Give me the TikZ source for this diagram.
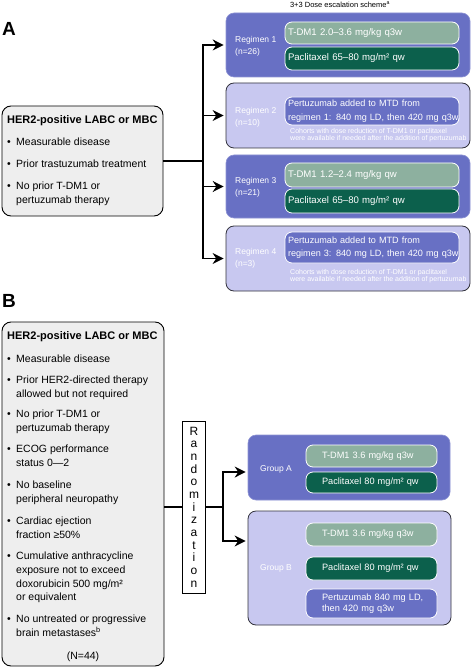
\documentclass[tikz,border=0pt]{standalone}
\usepackage{fontspec}
\setmainfont{Liberation Sans}
\usetikzlibrary{arrows.meta}
\definecolor{blueM}{RGB}{104,112,196}
\definecolor{lav}{RGB}{200,200,240}
\definecolor{sage}{RGB}{141,176,159}
\definecolor{dgreen}{RGB}{12,96,76}
\definecolor{grayf}{RGB}{238,238,238}
\definecolor{edge}{RGB}{50,50,60}
\begin{document}
\begin{tikzpicture}[x=1pt,y=-1pt,
  outerdark/.style={draw=blueM!75!white, fill=blueM, rounded corners=8pt, line width=0.6pt, inner sep=0pt},
  outerlight/.style={draw=edge, fill=lav, rounded corners=8pt, line width=0.8pt, inner sep=0pt},
  inbox/.style={draw=white, line width=0.8pt, rounded corners=7pt, text=white, inner xsep=3pt, inner ysep=0pt, align=left, text width=168pt, minimum width=174pt, font=\fontsize{9.6}{13.5}\selectfont},
  inboxB/.style={inbox, inner xsep=16pt, text width=99pt, minimum width=131pt, font=\fontsize{9.2}{11.5}\selectfont},
  crit/.style={draw=black, line width=0.9pt, fill=grayf, rounded corners=9pt, inner sep=0pt},
  lab/.style={text=white, font=\fontsize{8.5}{12}\selectfont, align=left, anchor=west, inner sep=0pt},
  small/.style={text=white, font=\fontsize{7}{7}\selectfont, align=left, anchor=west, inner sep=0pt},
  itm/.style={anchor=mid west, inner sep=0pt, font=\fontsize{10.5}{12}\selectfont},
  ttl/.style={anchor=mid west, inner sep=0pt, font=\fontsize{11}{12}\selectfont\bfseries},
  panel/.style={anchor=west, inner sep=0pt, font=\fontsize{19}{20}\selectfont\bfseries},
  ln/.style={line width=1.1pt},
  arr/.style={line width=1.1pt, -{Stealth[length=11pt,width=11pt]}, shorten >=2pt}
]
\useasboundingbox (0,0) rectangle (473,668);

% ---------------- Panel A ----------------
\node[panel] (labA) at (2,29) {A};
\node[inner sep=0pt, font=\fontsize{7.5}{9}\selectfont] (titleA) at (340,5) {3+3 Dose escalation scheme\textsuperscript{a}};

\node[crit, minimum width=161pt, minimum height=110pt] (boxA) at (82.5,161) {};
\node[ttl] (tA) at (7,121) {HER2-positive LABC or MBC};
\foreach \y [count=\i] in {143,165,187}
  \node[itm] (ab\i) at (7,\y) {•};
\foreach \y/\t [count=\i] in {143/{Measurable disease}, 165/{Prior trastuzumab treatment}, 187/{No prior T-DM1 or}, 201/{pertuzumab therapy}}
  \node[itm] (a\i) at (16,\y) {\t};

% Regimen 1
\node[outerdark, minimum width=244pt, minimum height=64pt] (r1) at (348,45) {};
\node[lab] (l1) at (235,46) {Regimen 1\\(n=26)};
\node[inbox, fill=sage, minimum height=22pt] (r1a) at (372,33) {\mbox{T-DM1 2.0–3.6 mg/kg q3w}};
\node[inbox, fill=dgreen, minimum height=23pt] (r1b) at (372,58.5) {\mbox{Paclitaxel 65–80 mg/m² qw}};

% Regimen 2
\node[outerlight, minimum width=244pt, minimum height=65pt] (r2) at (348,115.5) {};
\node[lab] (l2) at (235,117) {Regimen 2\\(n=10)};
\node[inbox, fill=blueM, minimum height=28pt, font=\fontsize{9.1}{13.5}\selectfont] (r2a) at (372,111) {\mbox{Pertuzumab added to MTD from}\\\mbox{regimen 1: 840 mg LD, then 420 mg q3w}};
\node[small] (c2) at (290,135.5) {Cohorts with dose reduction of T-DM1 or paclitaxel\\were available if needed after the addition of pertuzumab};

% Regimen 3
\node[outerdark, minimum width=244pt, minimum height=63pt] (r3) at (348,186.5) {};
\node[lab] (l3) at (235,187.5) {Regimen 3\\(n=21)};
\node[inbox, fill=sage, minimum height=24pt] (r3a) at (372,175) {\mbox{T-DM1 1.2–2.4 mg/kg qw}};
\node[inbox, fill=dgreen, minimum height=24pt] (r3b) at (372,201) {\mbox{Paclitaxel 65–80 mg/m² qw}};

% Regimen 4
\node[outerlight, minimum width=244pt, minimum height=65pt] (r4) at (348,258.5) {};
\node[lab] (l4) at (235,258) {Regimen 4\\(n=3)};
\node[inbox, fill=blueM, minimum height=31pt, font=\fontsize{9.1}{13.5}\selectfont] (r4a) at (372,247.5) {\mbox{Pertuzumab added to MTD from}\\\mbox{regimen 3: 840 mg LD, then 420 mg q3w}};
\node[small] (c4) at (290,276) {Cohorts with dose reduction of T-DM1 or paclitaxel\\were available if needed after the addition of pertuzumab};

% connectors A
\coordinate (ja) at (203,161);
\draw[ln] (boxA.east) -- (ja);
\draw[arr] (ja) |- (r1.west);
\draw[arr] (ja) |- (r2.west);
\draw[arr] (ja) |- (r3.west);
\draw[arr] (ja) |- (r4.west);

% ---------------- Panel B ----------------
\node[panel] (labB) at (2,300.5) {B};
\node[crit, minimum width=162pt, minimum height=344pt] (boxB) at (83,494) {};
\node[ttl] (tB) at (7,337) {HER2-positive LABC or MBC};
\foreach \y [count=\i] in {360,381,415,450,486,522,557,620}
  \node[itm] (bb\i) at (7,\y) {•};
\foreach \y/\t [count=\i] in {360/{Measurable disease}, 381/{Prior HER2-directed therapy}, 395/{allowed but not required},
   415/{No prior T-DM1 or}, 429/{pertuzumab therapy}, 450/{ECOG performance}, 464/{status 0—2},
   486/{No baseline}, 500/{peripheral neuropathy}, 522/{Cardiac ejection}, 536/{fraction ≥50\%},
   557/{Cumulative anthracycline}, 571/{exposure not to exceed}, 585/{doxorubicin 500 mg/m²}, 598/{or equivalent},
   620/{No untreated or progressive}, 634/{brain metastases\textsuperscript{b}}}
  \node[itm] (b\i) at (16,\y) {\t};
\node[inner sep=0pt, font=\fontsize{10.5}{12}\selectfont] (nB) at (83,657) {(N=44)};

\node[draw=black, line width=0.9pt, fill=white, minimum width=23pt, minimum height=172pt, inner sep=0pt,
      align=center, font=\fontsize{12}{12.67}\selectfont] (rand) at (194,507)
      {R\\a\\n\\d\\o\\m\\i\\z\\a\\t\\i\\o\\n};

% Group A
\node[outerdark, minimum width=202pt, minimum height=65pt] (gA) at (349,467.5) {};
\node[lab] (lgA) at (260,469) {Group A};
\node[inboxB, fill=sage, minimum height=22pt] (gAa) at (371.5,456) {\mbox{T-DM1 3.6 mg/kg q3w}};
\node[inboxB, fill=dgreen, minimum height=21pt] (gAb) at (371.5,482.5) {\mbox{Paclitaxel 80 mg/m² qw}};

% Group B
\node[outerlight, minimum width=203pt, minimum height=114pt] (gB) at (349.5,568) {};
\node[lab] (lgB) at (260,568) {Group B};
\node[inboxB, fill=sage, minimum height=23pt] (gBa) at (371.5,534.5) {\mbox{T-DM1 3.6 mg/kg q3w}};
\node[inboxB, fill=dgreen, minimum height=23pt] (gBb) at (371.5,568.5) {\mbox{Paclitaxel 80 mg/m² qw}};
\node[inboxB, fill=blueM, minimum height=29pt] (gBc) at (371.5,603.5) {\mbox{Pertuzumab 840 mg LD,}\\\mbox{then 420 mg q3w}};

% connectors B
\coordinate (jb) at (223,507);
\draw[ln] (boxB.east |- rand.west) -- (rand.west);
\draw[ln] (rand.east) -- (jb);
\draw[arr] (jb) |- ([yshift=-4.5pt]gA.west);
\draw[arr] (jb) |- ([yshift=27pt]gB.west);
\end{tikzpicture}
\end{document}
